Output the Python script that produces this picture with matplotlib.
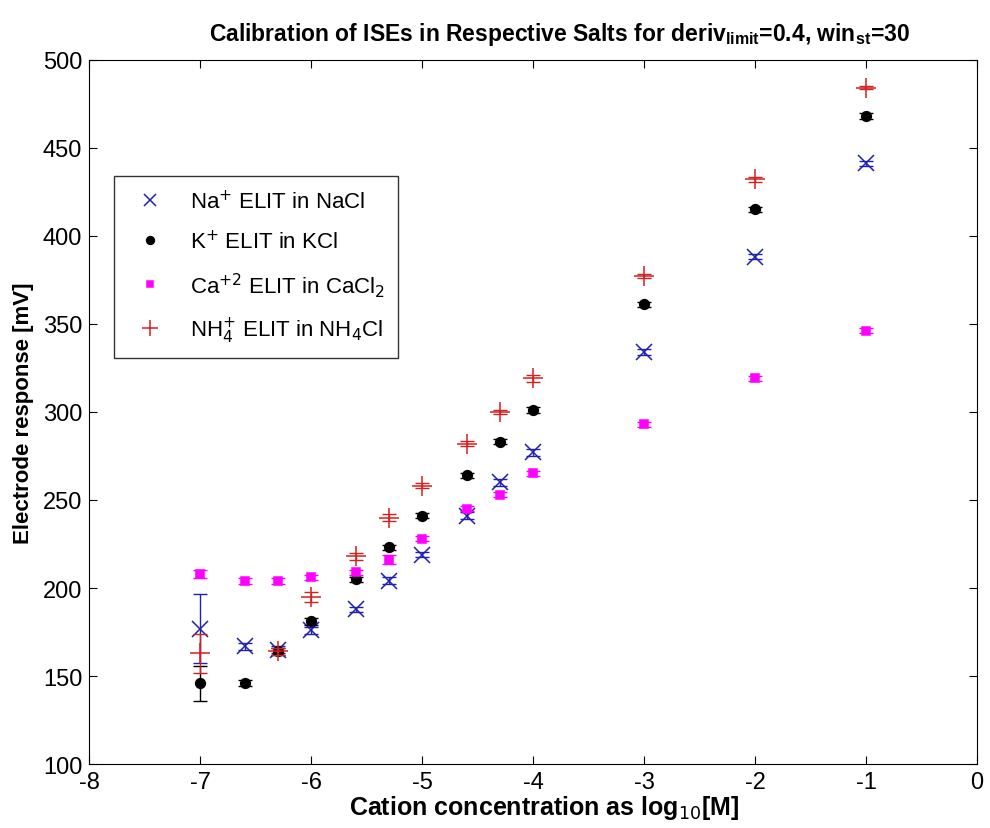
import numpy as np
import matplotlib.pyplot as plt

plt.rcParams['font.family'] = ['Liberation Sans', 'DejaVu Sans']
plt.rcParams['axes.unicode_minus'] = False

conc = [-7, -6.6, -6.3, -6, -5.6, -5.3, -5, -4.6, -4.3, -4, -3, -2, -1]

na = [177, 167, 165, 176, 188, 204, 219, 241, 260, 277, 334, 388, 441]
na_err = [19.5, 2, 2, 2, 1.5, 2, 1.5, 2, 2, 2, 1.5, 1.5, 1.5]

k = [146, 146, 164, 181, 205, 223, 241, 264, 283, 301, 361, 415, 468]
k_err = [10, 1.5, 2, 2, 1.5, 1.5, 1.5, 1.5, 1.5, 1.5, 1.5, 1.5, 1.5]

ca = [208, 204, 204, 206, 209, 216, 228, 245, 253, 265, 293, 319, 346]
ca_err = [2.5, 1.5, 1.5, 1.5, 1.5, 2.5, 1.5, 1.5, 1.5, 1.5, 1.5, 1.5, 1.5]

nh4 = [163, np.nan, 164, 195, 218, 240, 258, 282, 300, 319, 377, 432, 484]
nh4_err = [11, 0, 2, 3, 2, 2, 1.5, 1.5, 1, 2, 1, 1.5, 1]

fig = plt.figure(figsize=(9.9, 8.29), dpi=100)
ax = fig.add_axes([0.09, 0.077, 0.897, 0.85])

series = [
    (na, na_err, 'x', '#2020b0', 11, 'Na$^{+}$ ELIT in NaCl'),
    (k, k_err, 'o', 'black', 7, 'K$^{+}$ ELIT in KCl'),
    (ca, ca_err, 's', '#ff00ff', 6, 'Ca$^{+2}$ ELIT in CaCl$_{2}$'),
    (nh4, nh4_err, '+', '#d42020', 14, 'NH$_{4}^{+}$ ELIT in NH$_{4}$Cl'),
]

for vals, errs, mk, col, size, lab in series:
    ax.errorbar(conc, vals, yerr=errs, fmt='none', ecolor=col, elinewidth=1, capsize=5)
    ax.plot(conc, vals, mk, color=col, ms=size, mew=1.1, label=lab)

ax.set_xlim(-8, 0)
ax.set_ylim(100, 500)
ax.set_xticks(range(-8, 1))
ax.set_yticks(range(100, 501, 50))
ax.tick_params(direction='in', labelsize=17, length=6, top=True, right=True, pad=5)

ax.set_xlabel('Cation concentration as log$_{10}$[M]', fontsize=18, fontweight='bold',
              labelpad=0, x=0.512)
ax.set_ylabel('Electrode response [mV]', fontsize=16, fontweight='bold', labelpad=6)
ax.set_title('Calibration of ISEs in Respective Salts for deriv$_{\\mathregular{limit}}$=0.4, win$_{\\mathregular{st}}$=30',
             fontsize=16.5, fontweight='bold', pad=14, x=0.53)

leg = ax.legend(loc='upper left', bbox_to_anchor=(0.028, 0.834), fontsize=16,
                frameon=True, fancybox=False, edgecolor='black', handletextpad=0.8,
                labelspacing=0.75, borderpad=0.6, borderaxespad=0, markerscale=0.8)
leg.get_frame().set_linewidth(1)

fig.savefig('out.png', dpi=100)
